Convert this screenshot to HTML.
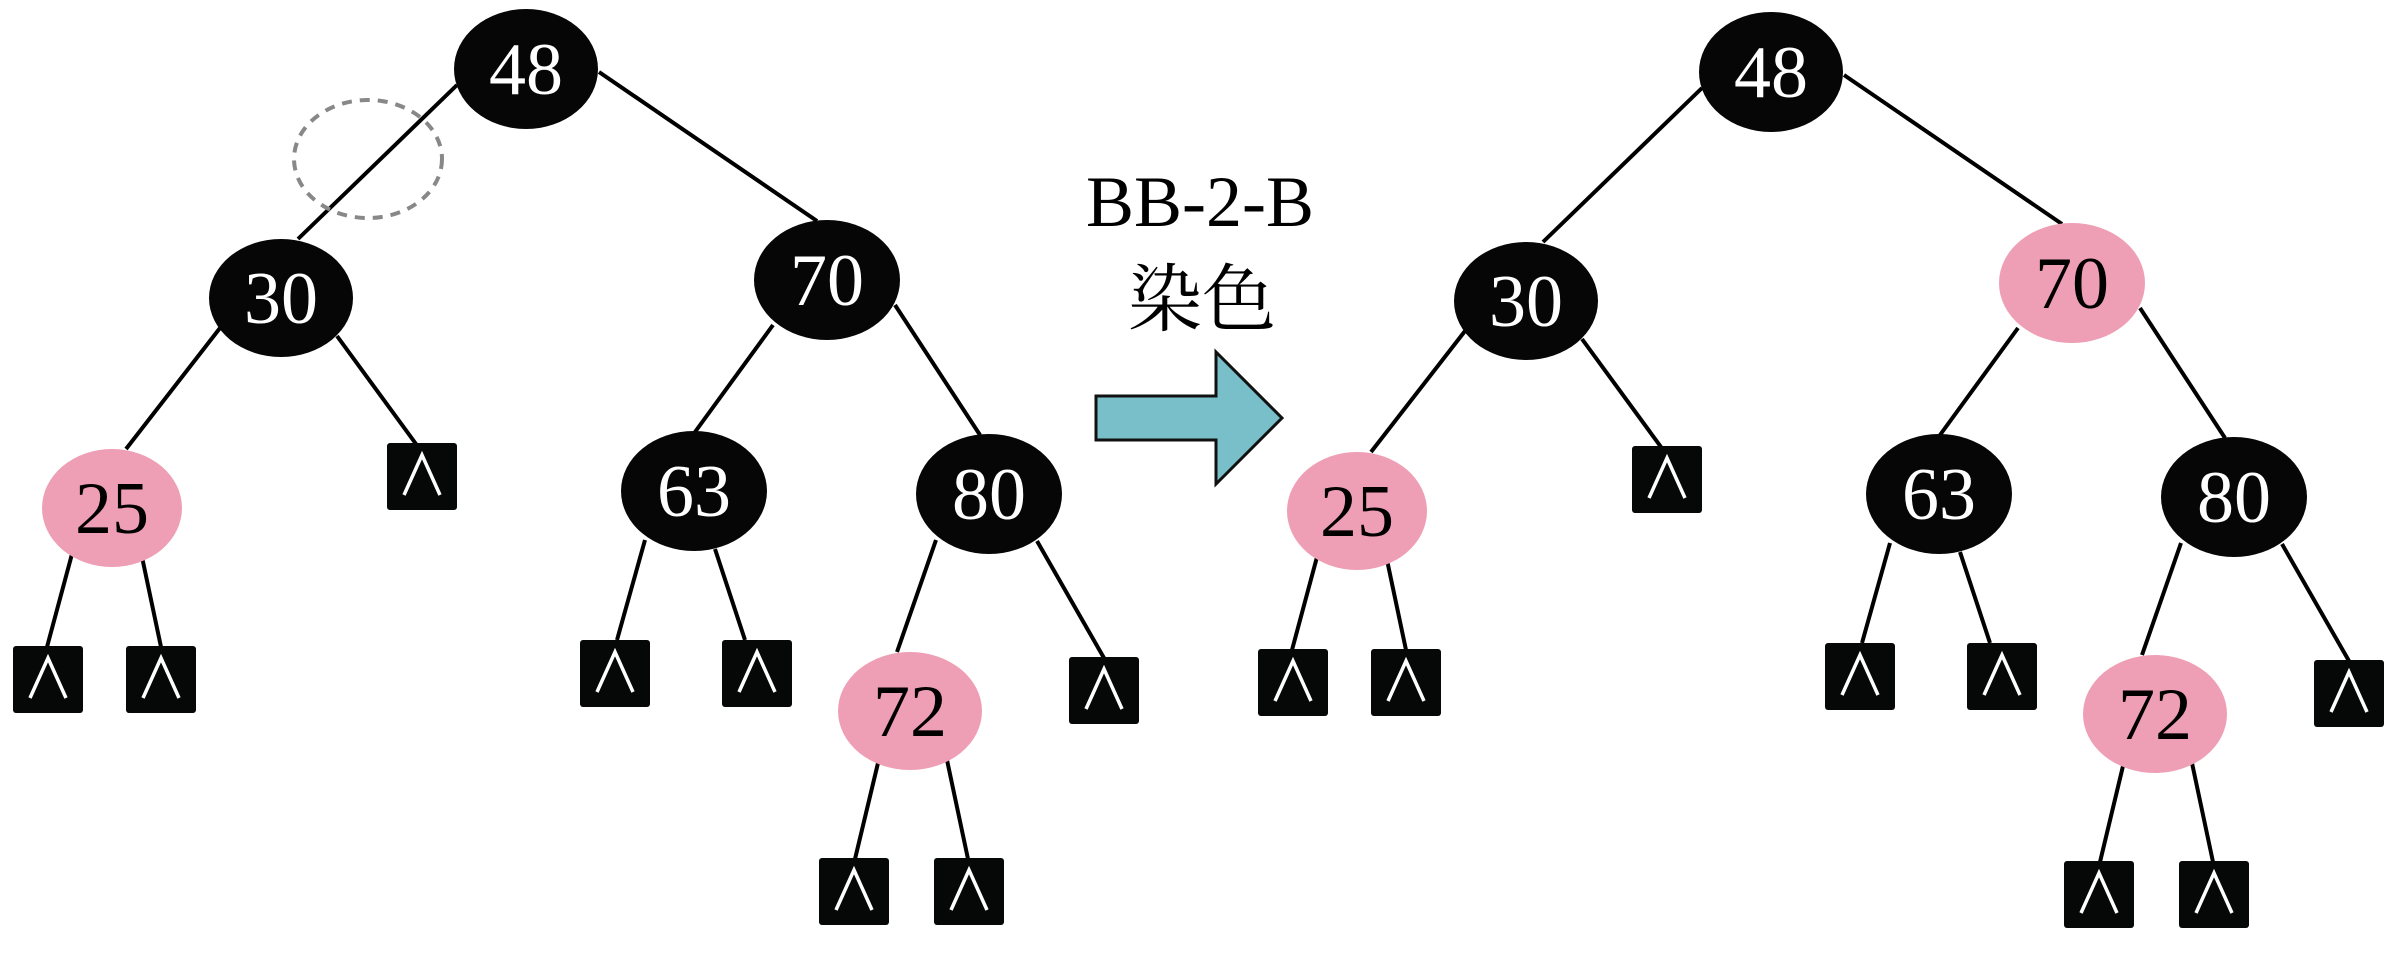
<!DOCTYPE html>
<html><head><meta charset="utf-8"><style>
html,body{margin:0;padding:0;background:#fff;}
svg{display:block;}
</style></head><body>
<svg width="2401" height="957" viewBox="0 0 2401 957" xmlns="http://www.w3.org/2000/svg">
<defs>
<g id="nil">
<rect x="0" y="0" width="70" height="67" rx="3" fill="#060808"/>
<polyline points="17,52 35,12 53,52" fill="none" stroke="#fff" stroke-width="3.5"/>
</g>
</defs>
<g id="tree1">
<g stroke="#000" stroke-width="4" fill="none">
<line x1="457" y1="85" x2="298" y2="239"/>
<line x1="599" y1="72" x2="817" y2="221"/>
<line x1="220" y1="328" x2="126" y2="449"/>
<line x1="337" y1="336" x2="416" y2="444"/>
<line x1="773" y1="325" x2="695" y2="432"/>
<line x1="895" y1="305" x2="980" y2="435"/>
<line x1="72" y1="554" x2="47" y2="647"/>
<line x1="142" y1="557" x2="161" y2="647"/>
<line x1="645" y1="540" x2="617" y2="640"/>
<line x1="715" y1="549" x2="745" y2="640"/>
<line x1="936" y1="540" x2="897" y2="652"/>
<line x1="1037" y1="541" x2="1104" y2="658"/>
<line x1="878" y1="763" x2="855" y2="859"/>
<line x1="947" y1="760" x2="968" y2="859"/>
</g>
<ellipse cx="368" cy="159" rx="74" ry="59" fill="none" stroke="#888" stroke-width="4" stroke-dasharray="10,8"/>
<g font-family="'Liberation Serif',serif" font-size="74" text-anchor="middle">
<ellipse cx="526" cy="69" rx="72" ry="60" fill="#060606"/><text x="526" y="94" fill="#fff">48</text>
<ellipse cx="281" cy="298" rx="72" ry="59" fill="#060606"/><text x="281" y="323" fill="#fff">30</text>
<ellipse cx="827" cy="280" rx="73" ry="60" fill="#060606"/><text x="827" y="305" fill="#fff">70</text>
<ellipse cx="112" cy="508" rx="70" ry="59" fill="#ee9fb5"/><text x="112" y="533" fill="#000">25</text>
<ellipse cx="694" cy="491" rx="73" ry="60" fill="#060606"/><text x="694" y="516" fill="#fff">63</text>
<ellipse cx="989" cy="494" rx="73" ry="60" fill="#060606"/><text x="989" y="519" fill="#fff">80</text>
<ellipse cx="910" cy="711" rx="72" ry="59" fill="#ee9fb5"/><text x="910" y="736" fill="#000">72</text>
</g>
<use href="#nil" x="387" y="443"/>
<use href="#nil" x="13" y="646"/>
<use href="#nil" x="126" y="646"/>
<use href="#nil" x="580" y="640"/>
<use href="#nil" x="722" y="640"/>
<use href="#nil" x="1069" y="657"/>
<use href="#nil" x="819" y="858"/>
<use href="#nil" x="934" y="858"/>
</g>
<g transform="translate(1245,3)">
<g stroke="#000" stroke-width="4" fill="none">
<line x1="457" y1="85" x2="298" y2="239"/>
<line x1="599" y1="72" x2="817" y2="221"/>
<line x1="220" y1="328" x2="126" y2="449"/>
<line x1="337" y1="336" x2="416" y2="444"/>
<line x1="773" y1="325" x2="695" y2="432"/>
<line x1="895" y1="305" x2="980" y2="435"/>
<line x1="72" y1="554" x2="47" y2="647"/>
<line x1="142" y1="557" x2="161" y2="647"/>
<line x1="645" y1="540" x2="617" y2="640"/>
<line x1="715" y1="549" x2="745" y2="640"/>
<line x1="936" y1="540" x2="897" y2="652"/>
<line x1="1037" y1="541" x2="1104" y2="658"/>
<line x1="878" y1="763" x2="855" y2="859"/>
<line x1="947" y1="760" x2="968" y2="859"/>
</g>
<g font-family="'Liberation Serif',serif" font-size="74" text-anchor="middle">
<ellipse cx="526" cy="69" rx="72" ry="60" fill="#060606"/><text x="526" y="94" fill="#fff">48</text>
<ellipse cx="281" cy="298" rx="72" ry="59" fill="#060606"/><text x="281" y="323" fill="#fff">30</text>
<ellipse cx="827" cy="280" rx="73" ry="60" fill="#ee9fb5"/><text x="827" y="305" fill="#000">70</text>
<ellipse cx="112" cy="508" rx="70" ry="59" fill="#ee9fb5"/><text x="112" y="533" fill="#000">25</text>
<ellipse cx="694" cy="491" rx="73" ry="60" fill="#060606"/><text x="694" y="516" fill="#fff">63</text>
<ellipse cx="989" cy="494" rx="73" ry="60" fill="#060606"/><text x="989" y="519" fill="#fff">80</text>
<ellipse cx="910" cy="711" rx="72" ry="59" fill="#ee9fb5"/><text x="910" y="736" fill="#000">72</text>
</g>
<use href="#nil" x="387" y="443"/>
<use href="#nil" x="13" y="646"/>
<use href="#nil" x="126" y="646"/>
<use href="#nil" x="580" y="640"/>
<use href="#nil" x="722" y="640"/>
<use href="#nil" x="1069" y="657"/>
<use href="#nil" x="819" y="858"/>
<use href="#nil" x="934" y="858"/>
</g>
<polygon points="1096,396 1216,396 1216,352 1282,418 1216,484 1216,440 1096,440" fill="#78bfc9" stroke="#111" stroke-width="3"/>
<text x="1200" y="226" font-family="'Liberation Serif',serif" font-size="72" text-anchor="middle" fill="#000">BB-2-B</text>
<text x="1202" y="325" font-family="'Liberation Serif','Noto Serif CJK SC',serif" font-size="74" text-anchor="middle" fill="#000">染色</text>
</svg>
</body></html>
